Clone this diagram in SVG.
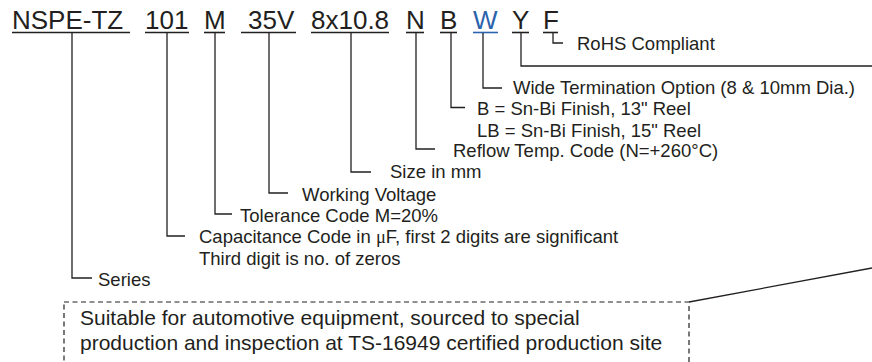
<svg xmlns="http://www.w3.org/2000/svg" width="872" height="362" viewBox="0 0 872 362">
<style>
.code{font-family:"Liberation Sans",Arial,sans-serif;font-size:26px;fill:#231f20}
.blue{fill:#2b63ad}
.desc{font-family:"Liberation Sans",Arial,sans-serif;font-size:18.5px;fill:#231f20}
.note{font-family:"Liberation Sans",Arial,sans-serif;font-size:21px;fill:#231f20}
.ul{stroke:#231f20;stroke-width:1.6;fill:none}
.ulb{stroke:#2b63ad;stroke-width:1.6;fill:none}
.c{stroke:#231f20;stroke-width:1.3;fill:none}
.box{stroke:#231f20;stroke-width:1.2;fill:none;stroke-dasharray:5 3.5}
</style>
<rect width="872" height="362" fill="#ffffff"/>
<g id="series">
<text class="code" x="12" y="29">NSPE-TZ</text>
<line class="ul" x1="12" y1="32.5" x2="130" y2="32.5"/>
<text class="desc" x="98" y="286">Series</text>
</g>
<g id="capacitance">
<text class="code" x="145" y="29">101</text>
<line class="ul" x1="145" y1="32.5" x2="189" y2="32.5"/>
<text class="desc" x="199" y="243">Capacitance Code in <tspan font-family="'Liberation Serif',serif">μ</tspan>F, first 2 digits are significant</text>
<text class="desc" x="199" y="264.5">Third digit is no. of zeros</text>
</g>
<g id="tolerance">
<text class="code" x="204" y="29">M</text>
<line class="ul" x1="204" y1="32.5" x2="225" y2="32.5"/>
<text class="desc" x="240" y="221.5">Tolerance Code M=20%</text>
</g>
<g id="voltage">
<text class="code" x="248" y="29">35V</text>
<line class="ul" x1="241" y1="32.5" x2="296" y2="32.5"/>
<text class="desc" x="302" y="200.5">Working Voltage</text>
</g>
<g id="size">
<text class="code" x="311" y="29">8x10.8</text>
<line class="ul" x1="311" y1="32.5" x2="389" y2="32.5"/>
<text class="desc" x="390" y="178">Size in mm</text>
</g>
<g id="reflow">
<text class="code" x="406" y="29">N</text>
<line class="ul" x1="406" y1="32.5" x2="424" y2="32.5"/>
<text class="desc" x="453" y="157">Reflow Temp. Code (N=+260°C)</text>
</g>
<g id="finish">
<text class="code" x="440" y="29">B</text>
<line class="ul" x1="440" y1="32.5" x2="457" y2="32.5"/>
<text class="desc" x="477" y="115">B = Sn-Bi Finish, 13" Reel</text>
<text class="desc" x="477" y="136.5">LB = Sn-Bi Finish, 15" Reel</text>
</g>
<g id="termination">
<text class="code blue" x="473" y="29">W</text>
<line class="ulb" x1="473" y1="32.5" x2="498" y2="32.5"/>
<text class="desc" x="513" y="93.5">Wide Termination Option (8 &amp; 10mm Dia.)</text>
</g>
<g id="automotive">
<text class="code" x="512" y="29">Y</text>
<line class="ul" x1="512" y1="32.5" x2="529" y2="32.5"/>
<rect class="box" x="64" y="302" width="625" height="80"/>
<text class="note" x="80" y="325">Suitable for automotive equipment, sourced to special</text>
<text class="note" x="80" y="350">production and inspection at TS-16949 certified production site</text>
</g>
<g id="rohs">
<text class="code" x="543" y="29">F</text>
<line class="ul" x1="543" y1="32.5" x2="558" y2="32.5"/>
<text class="desc" x="577" y="50">RoHS Compliant</text>
</g>
<g id="connectors">
<polyline class="c" points="72,33 72,278 92,278"/>
<polyline class="c" points="167,33 167,236 185,236"/>
<polyline class="c" points="215,33 215,214 232,214"/>
<polyline class="c" points="269,33 269,193 288,193"/>
<polyline class="c" points="351,33 351,172 371,172"/>
<polyline class="c" points="416,33 416,149 435,149"/>
<polyline class="c" points="451,33 451,107.5 465,107.5"/>
<polyline class="c" points="483,33 483,88 502,88"/>
<polyline class="c" points="521,33 521,66 872,66"/>
<polyline class="c" points="553,33 553,43 563,43"/>
<line class="c" x1="689" y1="302" x2="872" y2="268"/>
</g>
</svg>
